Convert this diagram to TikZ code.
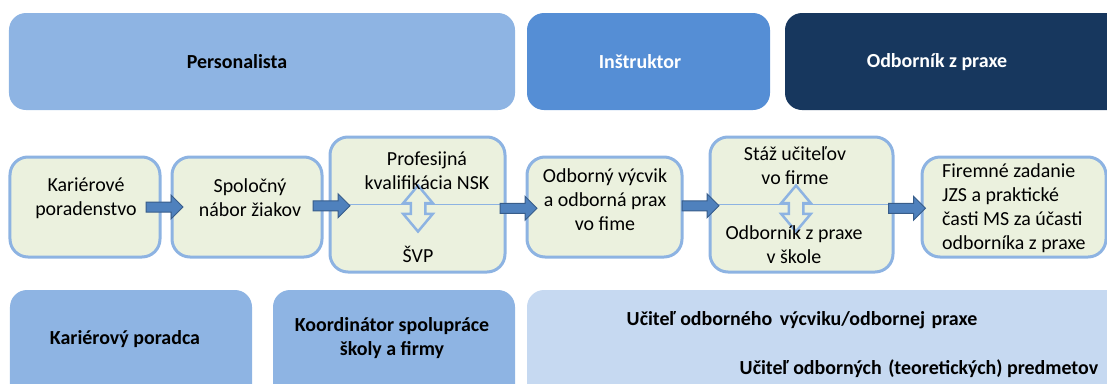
\documentclass[tikz,border=0pt]{standalone}
\usepackage{fontspec}
\setmainfont{Carlito}
\usetikzlibrary{shapes.arrows,calc}

\definecolor{roleA}{HTML}{8EB4E3}
\definecolor{roleB}{HTML}{558ED5}
\definecolor{roleC}{HTML}{17375E}
\definecolor{roleD}{HTML}{C6D9F1}
\definecolor{stepfill}{HTML}{EBF1DE}
\definecolor{stepline}{HTML}{8DB3E2}
\definecolor{arrfill}{HTML}{4F81BD}
\definecolor{arrline}{HTML}{385D8A}

\tikzset{
  rolebox/.style={rectangle, rounded corners=17bp, fill=#1, draw=none, inner sep=0pt},
  stepbox/.style={rectangle, rounded corners=18bp, fill=stepfill, draw=stepline, line width=3bp, inner sep=0pt},
  roletext/.style={font=\fontsize{20}{23.5}\selectfont\bfseries, align=center, inner sep=0pt},
  steptext/.style={font=\fontsize{20}{24}\selectfont, align=center, inner sep=0pt},
  sepline/.style={draw=stepline, line width=1bp},
  blockarrow/.style={single arrow, fill=arrfill, draw=arrline, line width=1bp, inner sep=4.5bp,
    minimum height=37bp, single arrow head extend=7bp, single arrow head indent=0pt},
  twoway/.style={double arrow, rotate=90, fill=stepfill, draw=stepline, line width=2.5bp, inner sep=6bp,
    minimum height=46bp, double arrow head extend=7.5bp, double arrow tip angle=80}
}

\begin{document}
\begin{tikzpicture}[x=1bp,y=-1bp]
\useasboundingbox (0,0) rectangle (1107,383);
\clip (0,0) rectangle (1107,383);

% roles above the process
\node[rolebox=roleA, minimum width=506bp, minimum height=97bp] (pers) at (262,61.5) {};
\node[rolebox=roleB, minimum width=243bp, minimum height=97bp] (instr) at (648.5,61.5) {};
\node[rolebox=roleC, minimum width=340bp, minimum height=97bp] (expert) at (955,61.5) {};

% roles below the process
\node[rolebox=roleA, minimum width=242bp, minimum height=120bp] (advisor) at (131,350) {};
\node[rolebox=roleA, minimum width=242bp, minimum height=120bp] (coord) at (394,350) {};
\node[rolebox=roleD, minimum width=600bp, minimum height=120bp] (teacher) at (827,350) {};

% process steps
\node[stepbox, minimum width=150bp, minimum height=100bp] (s1) at (85,207) {};
\node[stepbox, minimum width=150bp, minimum height=100bp] (s2) at (247,207) {};
\node[stepbox, minimum width=175bp, minimum height=135bp] (s3) at (417.5,204.5) {};
\node[stepbox, minimum width=155bp, minimum height=100bp] (s4) at (604.5,207) {};
\node[stepbox, minimum width=183bp, minimum height=135bp] (s5) at (801.5,204.5) {};
\node[stepbox, minimum width=184bp, minimum height=100bp] (s6) at (1014,207) {};

% split lines inside the double steps
\draw[sepline] (s3.west) -- (s3.east);
\draw[sepline] (s5.west) -- (s5.east);

% two-way links inside the double steps
\node[twoway] (link3) at (418,208.5) {};
\node[twoway] (link5) at (796,208.5) {};

% role labels
\node[roletext] (tpers) at (237,62) {Personalista};
\node[roletext, text=white] (tinstr) at (640,62) {Inštruktor};
\node[roletext, text=white] (texpert) at (937,62) {Odborník z praxe};
\node[roletext] (tadvisor) at (125,339) {Kariérový poradca};
\node[roletext] (tcoord) at (392,338) {Koordinátor spolupráce\\školy a firmy};
\node[roletext] (tteach1) at (802,320) {Učiteľ odborného\hspace{3bp} výcviku/odbornej\hspace{2bp} praxe};
\node[roletext] (tteach2) at (919,369) {Učiteľ odborných\hspace{2bp} (teoretických) predmetov};

% step labels
\node[steptext] (t1) at (86,198) {Kariérové\\poradenstvo};
\node[steptext] (t2) at (250,198) {Spoločný\\nábor žiakov};
\node[steptext] (t3a) at (427,171) {Profesijná\\kvalifikácia NSK};
\node[steptext] (t3b) at (418,254) {ŠVP};
\node[steptext] (t4) at (605,200) {Odborný výcvik\\a odborná prax\\vo fime};
\node[steptext] (t5a) at (795,166) {Stáž učiteľov\\vo firme};
\node[steptext] (t5b) at (794,245) {Odborník z praxe\\v škole};
\node[steptext, align=left, anchor=west] (t6) at (942,208) {Firemné zadanie\\JZS a praktické\\časti MS za účasti\\odborníka z praxe};

% arrows between the steps
\node[blockarrow] (a12) at ($(s1.east)!0.5!(s2.west)+(-4,0)$) {};
\node[blockarrow] (a23) at ($(s2.east)!0.5!(s3.west)+(3,0)$) {};
\node[blockarrow] (a34) at ($(s3.east)!0.5!(s4.west)+(0,2.5)$) {};
\node[blockarrow] (a45) at ($(s4.east)!0.5!(s5.west)+(2,0)$) {};
\node[blockarrow] (a56) at ($(s5.east)!0.5!(s6.west)+(-3,2.5)$) {};
\end{tikzpicture}
\end{document}
